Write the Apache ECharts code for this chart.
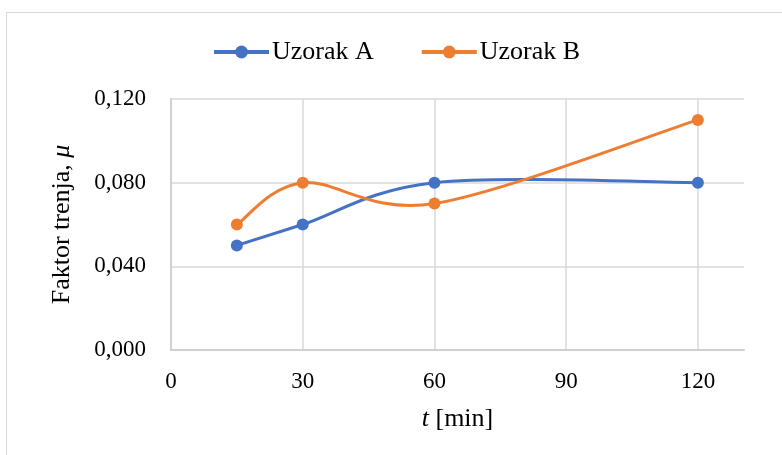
<!DOCTYPE html>
<html>
<head>
<meta charset="utf-8">
<script src="https://cdn.jsdelivr.net/npm/echarts@6/dist/echarts.min.js"></script>
<style>
  html, body { margin: 0; padding: 0; background: #fff; }
  #frame { position: absolute; left: 6px; top: 12px; width: 800px; height: 460px; border: 1.5px solid #d9d9d9; box-sizing: border-box; }
  #chart { position: absolute; left: 0; top: 0; width: 782px; height: 455px; }
</style>
</head>
<body>
<div id="frame"></div>
<div id="chart"></div>
<script>
const seriesNames = ['Uzorak A', 'Uzorak B'];
const timeMin = [15, 30, 60, 120];
const uzorakA = [0.050, 0.060, 0.080, 0.080];
const uzorakB = [0.060, 0.080, 0.070, 0.110];
const colors = ['#4472C4', '#ED7D31'];

const font = '"Liberation Serif", "DejaVu Serif", serif';
const chart = echarts.init(document.getElementById('chart'));

// Excel-like smoothing (Catmull-Rom, tension 1/6) between the data points,
// positioned through the chart's own axes with api.coord
function curveRenderer(values, color) {
  const n = timeMin.length;
  return function (params, api) {
    const i = params.dataIndex;
    if (i >= n - 1) return null;
    const p = k => {
      const j = Math.max(0, Math.min(n - 1, k));
      return api.coord([timeMin[j], values[j]]);
    };
    const p0 = p(i - 1), p1 = p(i), p2 = p(i + 1), p3 = p(i + 2);
    return {
      type: 'bezierCurve',
      shape: {
        x1: p1[0], y1: p1[1], x2: p2[0], y2: p2[1],
        cpx1: p1[0] + (p2[0] - p0[0]) / 6, cpy1: p1[1] + (p2[1] - p0[1]) / 6,
        cpx2: p2[0] - (p3[0] - p1[0]) / 6, cpy2: p2[1] - (p3[1] - p1[1]) / 6
      },
      style: { stroke: color, lineWidth: 3, fill: 'none', lineCap: 'round' }
    };
  };
}

function makeCurve(name, values, color) {
  return {
    name: name + ' curve',
    type: 'custom',
    z: 1,
    silent: true,
    renderItem: curveRenderer(values, color),
    encode: { x: 0, y: 1 },
    data: timeMin.map((t, i) => [t, values[i]])
  };
}

function makePoints(name, values, color) {
  return {
    name: name,
    type: 'line',
    z: 3,
    data: timeMin.map((t, i) => [t, values[i]]),
    symbol: 'circle',
    symbolSize: 12,
    lineStyle: { color: color, width: 3, opacity: 0 },
    itemStyle: { color: color }
  };
}

chart.setOption({
  animation: false,
  textStyle: { fontFamily: font },
  legend: {
    top: 34,
    left: 207,
    itemWidth: 55,
    itemHeight: 16,
    itemGap: 46,
    lineStyle: { width: 4, opacity: 1 },
    textStyle: { fontFamily: font, fontSize: 26, color: '#000', padding: [0, 0, 0, -2] },
    data: seriesNames
  },
  grid: { left: 171, top: 99, right: 38, bottom: 105 },
  xAxis: {
    type: 'value',
    min: 0,
    max: 130.5,
    interval: 30,
    name: '{i|t} [min]',
    nameLocation: 'middle',
    nameGap: 56,
    nameTextStyle: {
      fontFamily: font, fontSize: 26, color: '#000',
      rich: { i: { fontFamily: font, fontSize: 26, fontStyle: 'italic', color: '#000' } }
    },
    axisLine: { lineStyle: { color: '#d0d0d0', width: 2 } },
    axisTick: { show: false },
    axisLabel: {
      fontFamily: font, fontSize: 23, color: '#000', margin: 20,
      formatter: v => (v % 30 === 0 ? String(v) : ''),
      showMaxLabel: false
    },
    splitLine: { show: true, showMaxLine: false, lineStyle: { color: '#d9d9d9', width: 1.5 } }
  },
  yAxis: {
    type: 'value',
    min: 0,
    max: 0.12,
    interval: 0.04,
    name: 'Faktor trenja, {i|μ}',
    nameLocation: 'middle',
    nameGap: 96,
    nameRotate: 90,
    nameTextStyle: {
      fontFamily: font, fontSize: 26, color: '#000',
      rich: { i: { fontFamily: font, fontSize: 26, fontStyle: 'italic', color: '#000' } }
    },
    axisLine: { show: true, lineStyle: { color: '#d0d0d0', width: 2 } },
    axisTick: { show: false },
    axisLabel: {
      fontFamily: font, fontSize: 23, color: '#000', margin: 25,
      formatter: v => v.toFixed(3).replace('.', ',')
    },
    splitLine: { show: true, lineStyle: { color: '#d9d9d9', width: 1.5 } }
  },
  series: [
    makeCurve(seriesNames[0], uzorakA, colors[0]),
    makeCurve(seriesNames[1], uzorakB, colors[1]),
    makePoints(seriesNames[0], uzorakA, colors[0]),
    makePoints(seriesNames[1], uzorakB, colors[1])
  ]
});
</script>
</body>
</html>
